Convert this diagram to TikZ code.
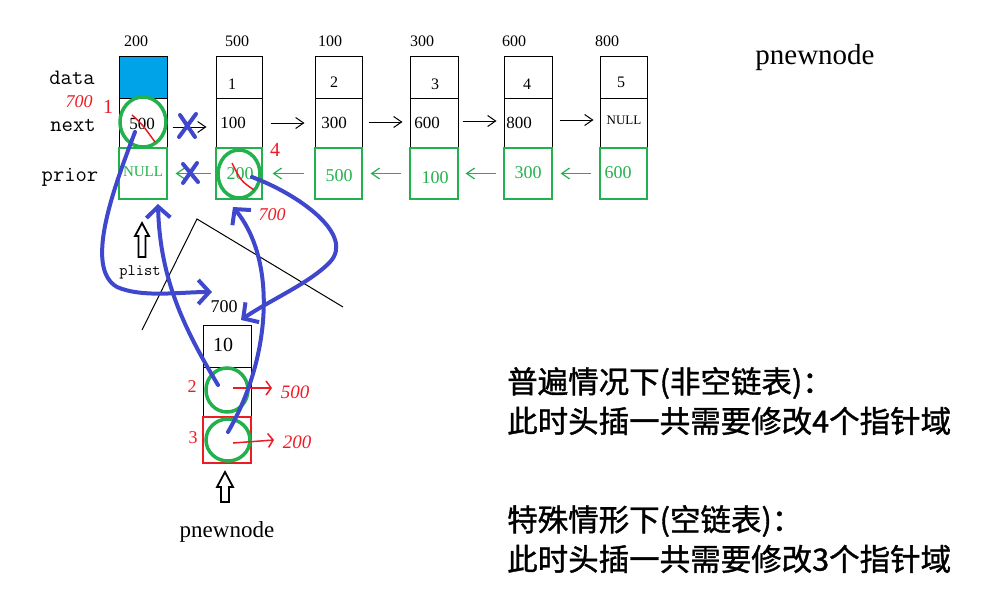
\documentclass[tikz,border=0pt]{standalone}
\usepackage{fontspec}
\setmainfont{Liberation Serif}
\newfontfamily\cjk[FakeBold=1.2]{Noto Sans CJK SC}
\usetikzlibrary{arrows.meta,shapes.geometric}
\definecolor{pblue}{HTML}{3F48CC}
\definecolor{pgreen}{HTML}{22B14C}
\definecolor{pred}{HTML}{ED1C24}
\definecolor{dblue}{HTML}{00A2E8}
\newcommand{\myfs}[1]{\fontsize{#1}{#1}\selectfont}
\begin{document}
\begin{tikzpicture}[x=1pt,y=-1pt,
  cellb/.style={draw=black, line width=1pt, inner sep=0pt},
  cellg/.style={draw=pgreen, line width=1.2pt, inner sep=0pt},
  txt/.style={inner sep=0pt, font=\myfs{16}},
  gtxt/.style={inner sep=0pt, font=\myfs{18}, text=pgreen},
  rtxt/.style={inner sep=0pt, font=\myfs{20}, text=pred},
  lbl/.style={inner sep=0pt, font=\ttfamily\myfs{22}},
  gcirc/.style={ellipse, draw=pgreen, line width=3.5pt, inner sep=0pt},
  blk/.style={line width=1pt, -{Straight Barb[length=8pt,width=11pt]}},
  grn/.style={line width=1.2pt, draw=pgreen, -{Straight Barb[length=8pt,width=11pt]}},
  bcurve/.style={draw=pblue, line width=4pt, line cap=round, -{Straight Barb[length=11pt,width=24pt]}},
  bx/.style={draw=pblue, line width=4pt, line cap=round},
  redl/.style={draw=pred, line width=1.5pt},
  hollow/.style={draw=black, line width=1.8pt, line join=miter}
]
\useasboundingbox (0,0) rectangle (991,608);

% ---- list nodes ----
\node[cellb, fill=dblue, minimum width=48pt, minimum height=42pt] (d200) at (143,77) {};
\node[cellb, minimum width=48pt, minimum height=50pt] (n200) at (143,123) {};
\node[cellg, minimum width=48pt, minimum height=51pt] (p200) at (143,173.5) {};
\foreach \n/\cx/\w in {500/239/46, 100/338.5/47, 300/434/48, 600/528/48, 800/623.5/47} {
  \node[cellb, minimum width=\w pt, minimum height=42pt] (d\n) at (\cx,77) {};
  \node[cellb, minimum width=\w pt, minimum height=50pt] (n\n) at (\cx,123) {};
  \node[cellg, minimum width=\w pt, minimum height=51pt] (p\n) at (\cx,173.5) {};
}

% address labels
\node[txt] (a200) at (136,41) {200};
\node[txt] (a500) at (237,41) {500};
\node[txt] (a100) at (330,41) {100};
\node[txt] (a300) at (422,41) {300};
\node[txt] (a600) at (514,41) {600};
\node[txt] (a800) at (607,41) {800};

% cell contents
\node[txt, font=\myfs{17}] (v200n) at (142,124) {500};
\node[gtxt, font=\myfs{15}] (v200p) at (143,172) {NULL};
\node[txt] (v500d) at (232,84) {1};
\node[txt, font=\myfs{17}] (v500n) at (233,123) {100};
\node[gtxt] (v500p) at (240,174) {200};
\node[txt] (v100d) at (334,82) {2};
\node[txt, font=\myfs{17}] (v100n) at (334,123) {300};
\node[gtxt] (v100p) at (339,176) {500};
\node[txt] (v300d) at (435,84) {3};
\node[txt, font=\myfs{17}] (v300n) at (427,123) {600};
\node[gtxt] (v300p) at (435,178) {100};
\node[txt] (v600d) at (527,84) {4};
\node[txt, font=\myfs{17}] (v600n) at (519,123) {800};
\node[gtxt] (v600p) at (528,173) {300};
\node[txt] (v800d) at (621,82) {5};
\node[txt, font=\myfs{13}] (v800n) at (624,120) {NULL};
\node[gtxt] (v800p) at (618,173) {600};

% field labels
\node[lbl] (ldata) at (72,78) {data};
\node[lbl] (lnext) at (73,125) {next};
\node[lbl] (lprior) at (70,177) {prior};

% next arrows
\draw[blk] ([xshift=5pt,yshift=-4pt]n200.east) -- ([xshift=-9pt,yshift=-4pt]n500.west);
\draw[blk] ([xshift=8pt]n500.east) -- ([xshift=-10pt]n100.west);
\draw[blk] ([xshift=6pt,yshift=1pt]n100.east) -- ([xshift=-7pt,yshift=1pt]n300.west);
\draw[blk] ([xshift=4pt,yshift=2pt]n300.east) -- ([xshift=-7pt,yshift=2pt]n600.west);
\draw[blk] ([xshift=7pt,yshift=3pt]n600.east) -- ([xshift=-6pt,yshift=3pt]n800.west);

% prior arrows
\draw[grn] ([xshift=-4pt]p500.west) -- ([xshift=8pt]p200.east);
\draw[grn] ([xshift=-10pt]p100.west) -- ([xshift=10pt]p500.east);
\draw[grn] ([xshift=-8pt]p300.west) -- ([xshift=8pt]p100.east);
\draw[grn] ([xshift=-7pt]p600.west) -- ([xshift=7pt]p300.east);
\draw[grn] ([xshift=-8pt]p800.west) -- ([xshift=8pt]p600.east);

% title top right
\node[inner sep=0pt, font=\myfs{29}] (ttl) at (815,58) {pnewnode};

% plist
\node[inner sep=0pt, font=\ttfamily\myfs{16}] (plist) at (140,272) {plist};
\draw[hollow] (142,223) -- (149,236) -- (145.5,236) -- (145.5,257) -- (138.5,257) -- (138.5,236) -- (135,236) -- cycle;

% triangle lines
\coordinate (t1) at (142,330);
\coordinate (t2) at (197,219);
\coordinate (t3) at (343,307);
\draw[line width=1pt] (t1) -- (t2) -- (t3);

% ---- new node 700 ----
\node[txt, font=\myfs{18}] (a700) at (224,307) {700};
\node[cellb, minimum width=48pt, minimum height=42pt] (d700) at (227,346) {};
\node[cellb, minimum width=48pt, minimum height=50pt] (n700) at (227,392) {};
\node[draw=pred, line width=1.6pt, inner sep=0pt, minimum width=48pt, minimum height=46pt] (p700) at (227,440) {};
\node[txt, font=\myfs{20}] (v700d) at (223,345) {10};
\node[inner sep=0pt, font=\myfs{23}] (pnew) at (227,532) {pnewnode};
\draw[hollow] (225,472) -- (233,487) -- (229,487) -- (229,502) -- (221,502) -- (221,487) -- (217,487) -- cycle;

% green circles
\node[gcirc, minimum width=46pt, minimum height=50pt] (c200n) at (143,122) {};
\node[gcirc, minimum width=42pt, minimum height=48pt] (c500p) at (239,174) {};
\node[gcirc, minimum width=42pt, minimum height=44pt] (c700n) at (227,390) {};
\node[gcirc, minimum width=44pt, minimum height=42pt] (c700p) at (228,440) {};

% red marks
\draw[redl] (132,115) .. controls (142,124) .. (155,142);
\draw[redl] (232,163) .. controls (241,181) .. (254,190);
\node[rtxt] (r1) at (108,107) {1};
\node[rtxt] (r4) at (275,150) {4};
\node[rtxt, font=\itshape\myfs{18}] (r700a) at (79,102) {700};
\node[rtxt, font=\itshape\myfs{18}] (r700b) at (272,215) {700};
\node[rtxt, font=\myfs{18}] (r2) at (192,387) {2};
\node[rtxt, font=\myfs{18}] (r3) at (193,438) {3};
\coordinate (ra1) at (233,388);
\coordinate (ra2) at (272,388);
\coordinate (rb1) at (233,443);
\coordinate (rb2) at (274,440);
\draw[redl, -{Straight Barb[length=5pt,width=14pt]}] (ra1) -- (ra2);
\draw[redl, -{Straight Barb[length=5pt,width=14pt]}] (rb1) -- (rb2);
\node[rtxt, font=\itshape\myfs{19}] (r500) at (295,392) {500};
\node[rtxt, font=\itshape\myfs{19}] (r200) at (297,442) {200};

% blue X marks
\draw[bx] (180,115) -- (195,137) (196,114) -- (179,137);
\draw[bx] (183,164) -- (198,182) (197,163) -- (183,183);

% blue curves
\coordinate (s1) at (135,132);
\coordinate (e1) at (212,292);
\draw[bcurve] (s1) .. controls (113,190) and (84,268) .. (117,287) .. controls (142,298) and (180,292) .. (e1);
\coordinate (s2) at (218,385);
\coordinate (e2) at (158,204);
\draw[bcurve] (s2) .. controls (185,330) and (160,280) .. (e2);
\coordinate (s3) at (228,432);
\coordinate (e3) at (233,207);
\draw[bcurve] (s3) .. controls (270,360) and (278,262) .. (e3);
\coordinate (s4) at (252,177);
\coordinate (e4) at (241,320);
\draw[bcurve] (s4) .. controls (300,195) and (355,235) .. (330,262) .. controls (310,283) and (270,300) .. (e4);

% Chinese text
\node[anchor=west, inner sep=0pt, font=\cjk\myfs{30.5}] (zh1) at (507,383) {普遍情况下(非空链表)：};
\node[anchor=west, inner sep=0pt, font=\cjk\myfs{30.5}] (zh2) at (507,421) {此时头插一共需要修改4个指针域};
\node[anchor=west, inner sep=0pt, font=\cjk\myfs{30.5}] (zh3) at (507,521) {特殊情形下(空链表)：};
\node[anchor=west, inner sep=0pt, font=\cjk\myfs{30.5}] (zh4) at (507,559) {此时头插一共需要修改3个指针域};
\end{tikzpicture}
\end{document}
